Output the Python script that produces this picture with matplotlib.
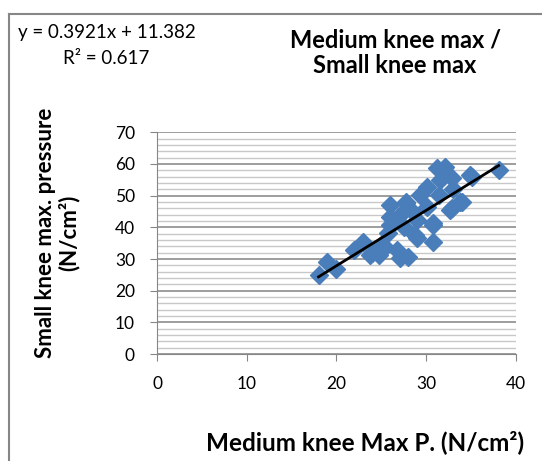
import numpy as np
import matplotlib
matplotlib.use("Agg")
import matplotlib.pyplot as plt
from matplotlib.lines import Line2D

plt.rcParams['font.family'] = ['Lato', 'DejaVu Sans']

# values
medium_max = [18.0, 18.9, 20.0, 22.0, 23.0, 23.7, 24.7, 25.4, 27.1, 28.0,
              26.7, 25.8, 26.0, 26.0, 26.0, 27.8, 27.3, 29.0, 29.0, 30.8,
              30.8, 30.1, 30.1, 31.2, 32.1, 32.9, 34.0, 32.9, 34.9, 38.1,
              31.4, 29.3, 35.1, 33.8, 32.7, 27.8, 30.8, 28.8, 26.5, 27.5,
              25.0, 24.0, 28.5, 31.5, 33.0]
small_max = [25.0, 29.1, 27.0, 32.8, 35.5, 31.3, 31.3, 33.9, 30.2, 30.7,
             32.8, 38.1, 47.0, 43.4, 40.7, 48.1, 44.4, 42.3, 36.5, 35.5,
             41.3, 46.5, 52.8, 58.6, 59.1, 55.5, 48.1, 46.0, 56.5, 58.1,
             50.2, 50.2, 56.0, 48.1, 45.5, 47.6, 40.7, 37.6, 42.0, 40.0,
             34.5, 32.0, 45.0, 55.0, 52.0]

x_ticks = [0, 10, 20, 30, 40]
y_ticks = [0, 10, 20, 30, 40, 50, 60, 70]

eq_text = "y = 0.3921x + 11.382"
r2_text = "R² = 0.617"

fig = plt.figure(figsize=(5.42, 4.61), dpi=100)
ax = fig.add_axes([0.290, 0.232, 0.6615, 0.481])

# Excel style gridlines
ax.set_yticks(np.arange(0, 71, 2), minor=True)
ax.yaxis.grid(True, which='minor', color='#c8c8c8', linewidth=1.0)
ax.yaxis.grid(True, which='major', color='#8c8c8c', linewidth=1.2)
ax.set_axisbelow(True)

ax.plot(medium_max, small_max, linestyle='none', marker='D', markersize=9.5,
        color='#4a7ebb', markeredgecolor='#4a7ebb', zorder=3)

# linear trendline
k, b = np.polyfit(medium_max, small_max, 1)
xl = np.array([min(medium_max), max(medium_max)])
ax.plot(xl, k * xl + b, color='black', linewidth=2, zorder=4)

ax.set_xlim(0, 40)
ax.set_ylim(0, 70)
ax.set_xticks(x_ticks)
ax.set_yticks(y_ticks)
ax.tick_params(axis='both', which='major', direction='out', length=5,
               color='#868686', labelsize=12.5, pad=11)
ax.tick_params(axis='y', which='minor', length=0)
for s in ['top', 'right']:
    ax.spines[s].set_visible(False)
for s in ['left', 'bottom']:
    ax.spines[s].set_color('#868686')

fig.text(0.673, 0.042, "Medium knee Max P. (N/cm²)", ha='center', va='center',
         fontsize=17.5, fontweight='bold')
fig.text(0.105, 0.494, "Small knee max. pressure\n(N/cm²)", ha='center', va='center',
         rotation=90, fontsize=16, fontweight='bold', linespacing=1.1)
fig.text(0.729, 0.885, "Medium knee max /\nSmall knee max", ha='center', va='center',
         fontsize=17, fontweight='bold', linespacing=1.15)
fig.text(0.033, 0.930, eq_text, ha='left', va='center', fontsize=13.5)
fig.text(0.116, 0.874, r2_text, ha='left', va='center', fontsize=13.5)

# chart border
fig.add_artist(Line2D([9 / 542, 9 / 542], [0, 1 - 14 / 461], color='#868686', linewidth=1.5))
fig.add_artist(Line2D([9 / 542, 1], [1 - 14 / 461, 1 - 14 / 461], color='#868686', linewidth=1.5))

fig.savefig("out.png", dpi=100)
